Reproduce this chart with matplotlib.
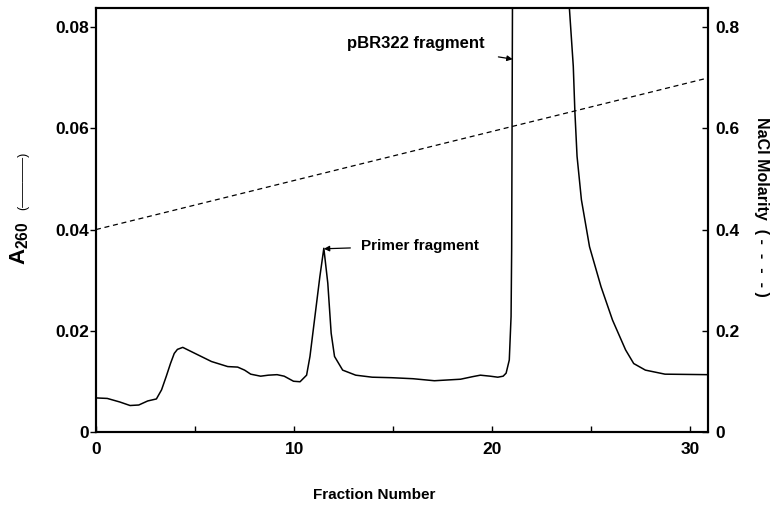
import matplotlib
matplotlib.use("Agg")
import matplotlib.pyplot as plt

plt.rcParams['font.family'] = ['Liberation Sans', 'DejaVu Sans']
plt.rcParams['font.weight'] = 'bold'
plt.rcParams['mathtext.default'] = 'regular'

# A260 elution profile (values above 0.084 run off the top)
fraction = [0.0, 0.57, 1.2, 1.72, 2.16, 2.61, 3.05, 3.31, 3.55, 3.76, 3.95,
            4.11, 4.38, 5.0, 5.83, 6.65, 7.15, 7.5, 7.81, 8.31, 8.7, 9.14,
            9.5, 9.97, 10.3, 10.63, 10.8, 11.05, 11.3, 11.5, 11.7, 11.87,
            12.04, 12.45, 13.11, 13.94, 14.93, 16.0, 17.08, 18.4, 19.0, 19.4,
            19.9, 20.28, 20.55, 20.7, 20.86, 20.95, 20.98, 21.03, 23.7, 23.89,
            24.09, 24.17, 24.28, 24.5, 24.91, 25.49, 26.07, 26.73, 27.14,
            27.73, 28.72, 30.9]
a260 = [0.0067, 0.0066, 0.0059, 0.0052, 0.0053, 0.0061, 0.0065, 0.0083,
        0.0110, 0.0135, 0.0155, 0.0163, 0.0167, 0.0155, 0.0139, 0.0129,
        0.0128, 0.0122, 0.0114, 0.0110, 0.0112, 0.0113, 0.0110, 0.0100,
        0.0099, 0.0112, 0.0149, 0.0228, 0.0307, 0.0363, 0.0294, 0.0195,
        0.0149, 0.0122, 0.0112, 0.0108, 0.0107, 0.0105, 0.0101, 0.0104,
        0.0109, 0.0112, 0.0110, 0.0108, 0.0110, 0.0116, 0.0142, 0.0228,
        0.0360, 0.0950, 0.0950, 0.0840, 0.0723, 0.0634, 0.0545, 0.0459,
        0.0366, 0.0287, 0.0221, 0.0162, 0.0135, 0.0122, 0.0114, 0.0113]

# NaCl gradient (right axis)
nacl_fraction = [0.0, 30.9]
nacl_molarity = [0.40, 0.70]

x_ticks = [0, 10, 20, 30]
x_ticklabels = ['0', '10', '20', '30']
x_minor = [5, 15, 25]
a_ticks = [0, 0.02, 0.04, 0.06, 0.08]
a_ticklabels = ['0', '0.02', '0.04', '0.06', '0.08']
m_ticks = [0, 0.2, 0.4, 0.6, 0.8]
m_ticklabels = ['0', '0.2', '0.4', '0.6', '0.8']

fig = plt.figure(figsize=(7.74, 5.08), dpi=100)
ax = fig.add_axes([0.124, 0.150, 0.791, 0.834])
ax2 = ax.twinx()

ax.plot(fraction, a260, color='black', lw=1.1)
ax2.plot(nacl_fraction, nacl_molarity, color='black', lw=0.9,
         linestyle=(0, (4, 3)))

ax.set_xlim(0, 30.9)
ax.set_ylim(0, 0.0838)
ax2.set_ylim(0, 0.838)

ax.set_xticks(x_ticks)
ax.set_xticklabels(x_ticklabels)
ax.set_xticks(x_minor, minor=True)
ax.set_yticks(a_ticks)
ax.set_yticklabels(a_ticklabels)
ax2.set_yticks(m_ticks)
ax2.set_yticklabels(m_ticklabels)

ax.tick_params(axis='x', which='both', direction='in', length=4, width=1,
               labelsize=12.5, pad=7)
ax.tick_params(axis='y', direction='out', length=4, width=1, labelsize=12.5,
               pad=1)
ax2.tick_params(axis='y', direction='in', length=4, width=1, labelsize=12.5,
                pad=5)
for a in (ax, ax2):
    for s in a.spines.values():
        s.set_linewidth(1.5)

# axis titles placed as figure text
fig.text(374 / 774, 1 - 495 / 508, 'Fraction Number', fontsize=11,
         weight='bold', ha='center', va='center')
fig.text(20 / 774, 1 - 243 / 508, 'A$_{260}$', fontsize=16, weight='bold',
         rotation=90, ha='center', va='center')
fig.text(23 / 774, 1 - 181 / 508, '(\u2014\u2014\u2014\u2014)', fontsize=9,
         weight='normal', rotation=90, ha='center', va='center')
fig.text(762 / 774, 1 - 207 / 508, 'NaCl Molarity  ( -  -  -  - )',
         fontsize=11.5, weight='bold', rotation=270, ha='center',
         va='center')

ax.annotate('Primer fragment', xy=(11.5, 0.0362), xytext=(13.4, 0.0368),
            fontsize=11, va='center', ha='left',
            arrowprops=dict(arrowstyle='-|>', color='black', lw=0.9,
                            shrinkA=6, shrinkB=0, mutation_scale=8))
ax.annotate('pBR322 fragment', xy=(21.03, 0.0737), xytext=(19.6, 0.0768),
            fontsize=12, va='center', ha='right',
            arrowprops=dict(arrowstyle='-|>', color='black', lw=0.9,
                            shrinkA=14, shrinkB=0, mutation_scale=8))

fig.savefig('out.png', dpi=100)
